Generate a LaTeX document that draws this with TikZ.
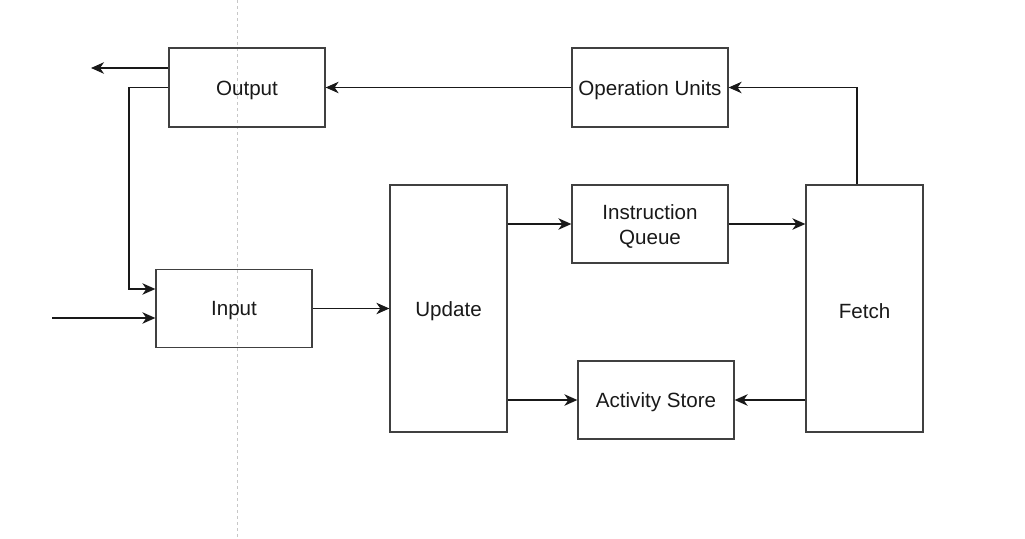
\documentclass[tikz,border=0pt]{standalone}
\usepackage{fontspec}
\setmainfont{Liberation Sans}
\usetikzlibrary{arrows.meta,calc}
\begin{document}
\begin{tikzpicture}[x=1pt,y=-1pt,
  box/.style={draw=black!75,line width=1.3pt,rectangle,inner sep=0pt},
  every label/.style={align=center,inner sep=0pt,yshift=-2.5pt,text=black!90,
    font=\fontsize{20.6}{25.75}\selectfont},
  wide/.style={box,minimum width=156pt,minimum height=78pt},
  tall/.style={box,minimum width=117pt,minimum height=247pt},
  arr/.style={line width=1.3pt,draw=black!90,-{Stealth[length=13pt,width=11.5pt,inset=4pt]}}]
\useasboundingbox (0,0) rectangle (1025,538);
\draw[black!22,line width=0.8pt,dash pattern=on 3pt off 3pt] (237,0) -- (237,538);
\node[wide,minimum height=79pt,label={center:Output}] (out) at (247,87.5) {};
\node[wide,minimum height=79pt,label={center:Operation Units}] (ou) at (650,87.5) {};
\node[tall,label={center:Update}] (upd) at (448.5,308.5) {};
\node[wide,label={center:{Instruction\\Queue}}] (iq) at (650,224) {};
\node[tall,label={center:Fetch}] (fet) at (864.5,308.5) {};
\node[wide,label={center:Input}] (inp) at (234,308.5) {};
\node[wide,label={center:Activity Store}] (as) at (656,400) {};
\coordinate (outEnd) at (91,68);
\coordinate (loopx) at (129,289);
\coordinate (inStart) at (52,318);
\draw[arr] (out.west |- outEnd) -- (outEnd);
\draw[arr] (out.west) -| (loopx) -- (inp.west |- loopx);
\draw[arr] (inStart) -- (inp.west |- inStart);
\draw[arr] (inp.east) -- (upd.west |- inp.east);
\draw[arr] (upd.east |- iq.west) -- (iq.west);
\draw[arr] (upd.east |- as.west) -- (as.west);
\draw[arr] (iq.east) -- (fet.west |- iq.east);
\draw[arr] (fet.west |- as.east) -- (as.east);
\draw[arr] ([xshift=-7.5pt]fet.north) |- (ou.east);
\draw[arr] (ou.west) -- (out.east);
\end{tikzpicture}
\end{document}
